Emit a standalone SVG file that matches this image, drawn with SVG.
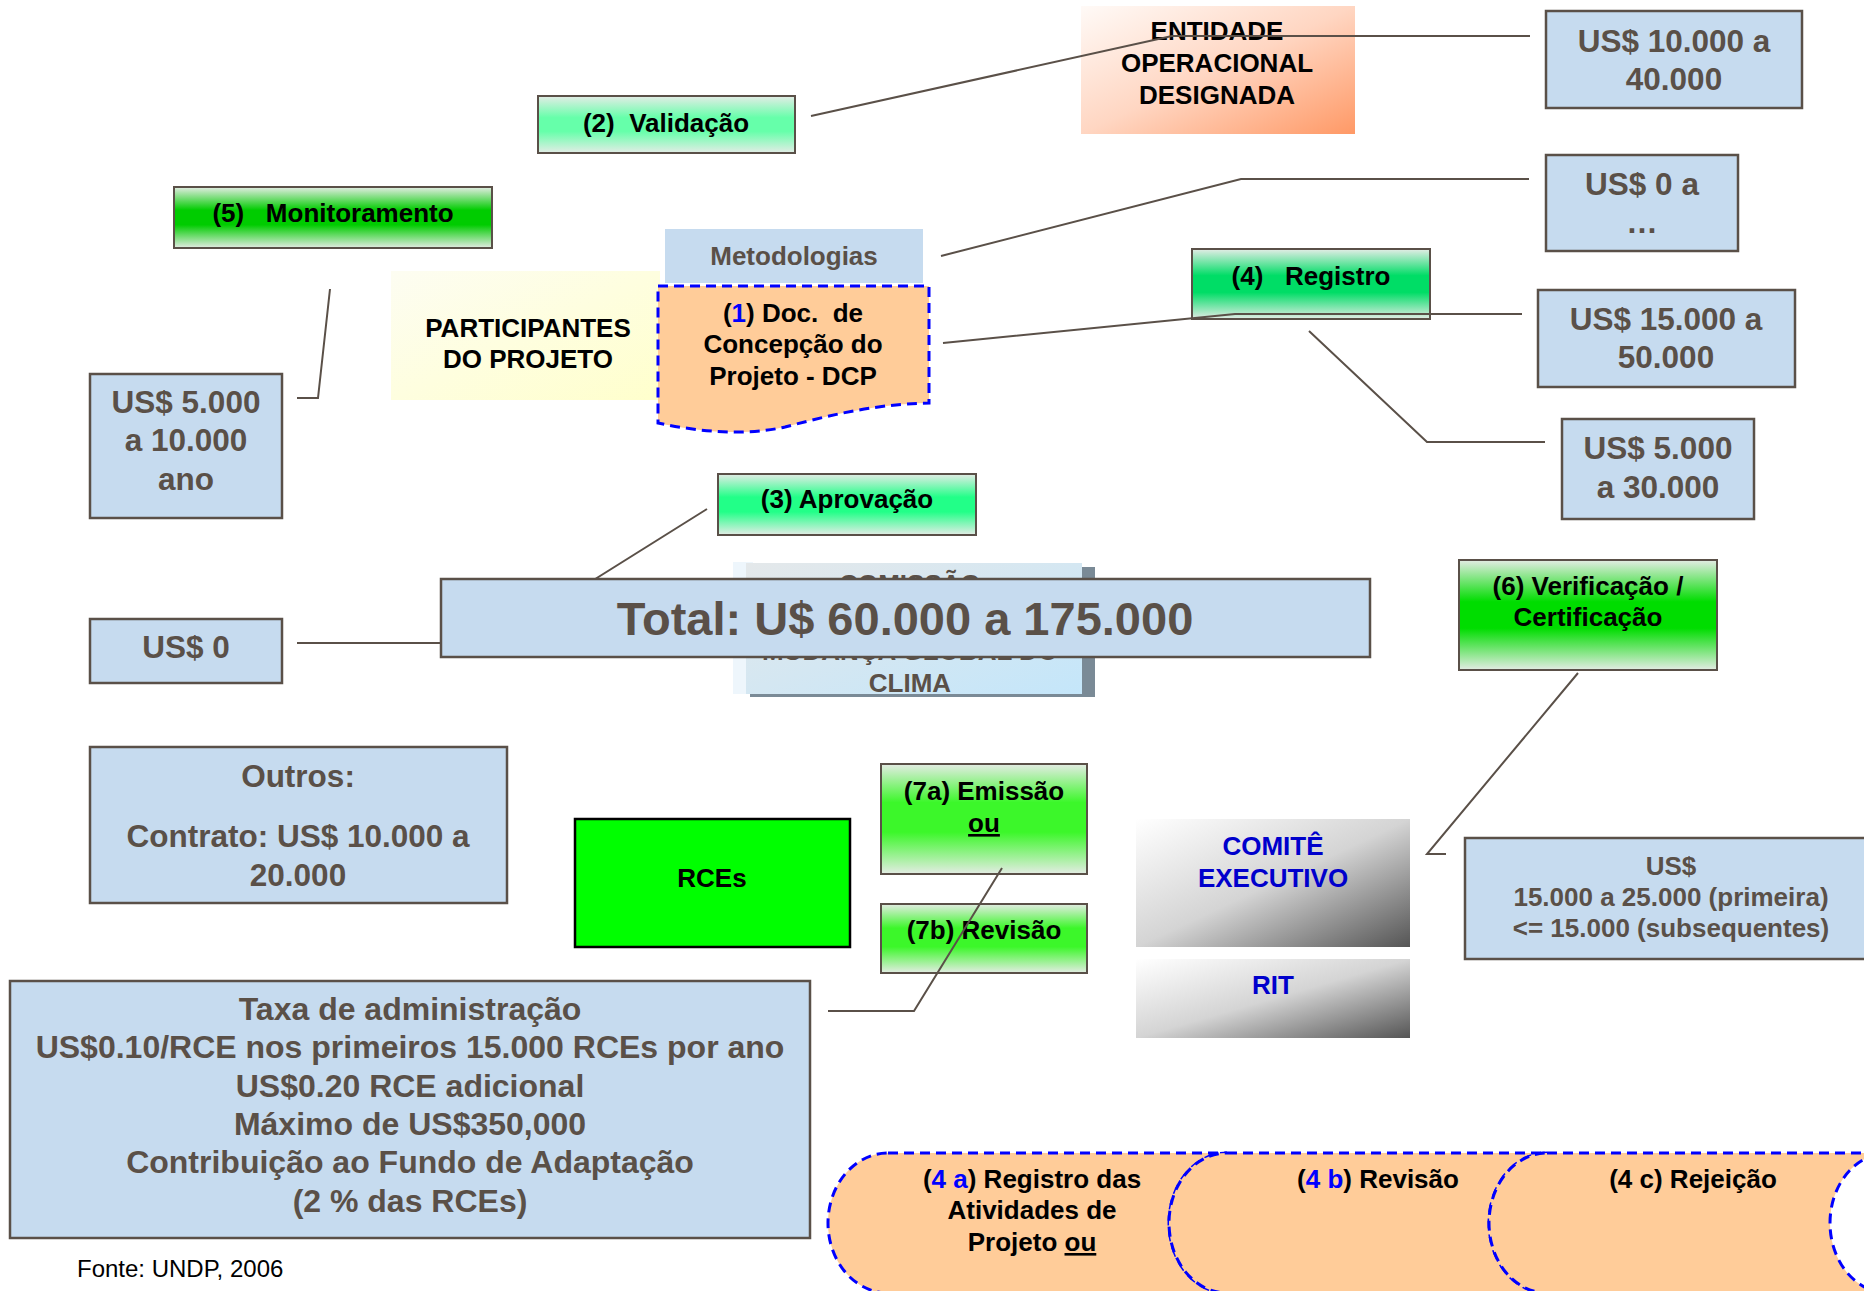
<svg xmlns="http://www.w3.org/2000/svg" width="1864" height="1291" viewBox="0 0 1864 1291">
<defs>
<style>
.val{fill:#c6dbef;stroke:#5a5048;stroke-width:2.5}
.vt{font-family:"Liberation Sans",Arial,sans-serif;font-weight:bold;font-size:31.5px;fill:#5a5048;text-anchor:middle}
.lbl{font-family:"Liberation Sans",Arial,sans-serif;font-weight:bold;font-size:26px;fill:#000;text-anchor:middle;white-space:pre}
.gt{font-family:"Liberation Sans",Arial,sans-serif;font-weight:bold;font-size:26px;fill:#5a5048;text-anchor:middle}
.bt{font-family:"Liberation Sans",Arial,sans-serif;font-weight:bold;font-size:26px;fill:#0000cc;text-anchor:middle}
.gb{stroke:#5a5048;stroke-width:2}
.conn{fill:none;stroke:#5a5048;stroke-width:2}
.dash{fill:#ffcc99;stroke:#0000ff;stroke-width:3;stroke-dasharray:10 6}
.blue{fill:#0000ff}
</style>
<linearGradient id="gValid" x1="0" y1="0" x2="0" y2="1"><stop offset="0" stop-color="#e4ece6"/><stop offset="0.38" stop-color="#66ffaa"/><stop offset="0.62" stop-color="#66ffaa"/><stop offset="1" stop-color="#e4ece6"/></linearGradient>
<linearGradient id="gMon" x1="0" y1="0" x2="0" y2="1"><stop offset="0" stop-color="#e4ece4"/><stop offset="0.38" stop-color="#00cc00"/><stop offset="0.62" stop-color="#00cc00"/><stop offset="1" stop-color="#e4ece4"/></linearGradient>
<linearGradient id="gReg" x1="0" y1="0" x2="0" y2="1"><stop offset="0" stop-color="#e4ece6"/><stop offset="0.38" stop-color="#00dd66"/><stop offset="0.62" stop-color="#00dd66"/><stop offset="1" stop-color="#e4ece6"/></linearGradient>
<linearGradient id="gApr" x1="0" y1="0" x2="0" y2="1"><stop offset="0" stop-color="#e4ece6"/><stop offset="0.38" stop-color="#22ff88"/><stop offset="0.62" stop-color="#22ff88"/><stop offset="1" stop-color="#e4ece6"/></linearGradient>
<linearGradient id="gVer" x1="0" y1="0" x2="0" y2="1"><stop offset="0" stop-color="#e4ece4"/><stop offset="0.38" stop-color="#00dd00"/><stop offset="0.62" stop-color="#00dd00"/><stop offset="1" stop-color="#e4ece4"/></linearGradient>
<linearGradient id="gEmi" x1="0" y1="0" x2="0" y2="1"><stop offset="0" stop-color="#e4ece4"/><stop offset="0.35" stop-color="#3cf72a"/><stop offset="0.62" stop-color="#3cf72a"/><stop offset="1" stop-color="#e4ece4"/></linearGradient>
<linearGradient id="gGray" x1="0" y1="0" x2="1" y2="1"><stop offset="0" stop-color="#ffffff"/><stop offset="0.5" stop-color="#d4d4d4"/><stop offset="1" stop-color="#555555"/></linearGradient>
<linearGradient id="gEnt" x1="0" y1="0" x2="1" y2="1"><stop offset="0" stop-color="#fffaf7"/><stop offset="0.5" stop-color="#ffd6c2"/><stop offset="1" stop-color="#ff9966"/></linearGradient>
<linearGradient id="gPart" x1="0" y1="0" x2="1" y2="1"><stop offset="0" stop-color="#fdfdf2"/><stop offset="1" stop-color="#ffffcc"/></linearGradient>
<linearGradient id="gCom" x1="0" y1="0" x2="1" y2="1"><stop offset="0" stop-color="#e4e8ea"/><stop offset="1" stop-color="#c4e6fa"/></linearGradient>
</defs>
<rect width="1864" height="1291" fill="#ffffff"/>

<g id="comissao">
<rect x="733" y="562" width="20" height="132" fill="#eef6fc"/>
<rect x="750" y="567" width="345" height="130" fill="#7a8a96"/>
<rect x="746" y="563" width="336" height="131" fill="url(#gCom)"/>
<text class="gt"><tspan x="910" y="593">COMISSÃO</tspan><tspan x="910" y="660">MUDANÇA GLOBAL DO</tspan><tspan x="910" y="692">CLIMA</tspan></text>
</g>

<g id="entidade">
<rect x="1081" y="6" width="274" height="128" fill="url(#gEnt)"/>
<text class="lbl"><tspan x="1217" y="40">ENTIDADE</tspan><tspan x="1217" y="72">OPERACIONAL</tspan><tspan x="1217" y="104">DESIGNADA</tspan></text>
</g>

<g id="validacao">
<rect class="gb" x="538" y="96" width="257" height="57" fill="url(#gValid)"/>
<text class="lbl" x="666" y="132">(2)  Validação</text>
</g>

<g id="monitoramento">
<rect class="gb" x="174" y="187" width="318" height="61" fill="url(#gMon)"/>
<text class="lbl" x="333" y="222">(5)   Monitoramento</text>
</g>

<g id="metodologias">
<rect x="665" y="229" width="258" height="54" fill="#c6dbef"/>
<text class="gt" x="794" y="265">Metodologias</text>
</g>

<g id="participantes">
<rect x="391" y="271" width="269" height="129" fill="url(#gPart)"/>
<text class="lbl"><tspan x="528" y="337">PARTICIPANTES</tspan><tspan x="528" y="368">DO PROJETO</tspan></text>
</g>

<g id="dcp">
<path class="dash" stroke-width="2.5" d="M658,286 L929,286 L929,403 C870,404 820,418 785,427 C745,436 700,432 658,423 Z"/>
<text class="lbl"><tspan x="793" y="322">(<tspan class="blue">1</tspan>) Doc.  de</tspan><tspan x="793" y="353">Concepção do</tspan><tspan x="793" y="385">Projeto - DCP</tspan></text>
</g>

<g id="registro">
<rect class="gb" x="1192" y="249" width="238" height="70" fill="url(#gReg)"/>
<text class="lbl" x="1311" y="285">(4)   Registro</text>
</g>

<g id="aprovacao">
<rect class="gb" x="718" y="474" width="258" height="61" fill="url(#gApr)"/>
<text class="lbl" x="847" y="508">(3) Aprovação</text>
</g>

<g id="verificacao">
<rect class="gb" x="1459" y="560" width="258" height="110" fill="url(#gVer)"/>
<text class="lbl"><tspan x="1588" y="595">(6) Verificação /</tspan><tspan x="1588" y="626">Certificação</tspan></text>
</g>

<g id="emissao">
<rect class="gb" x="881" y="764" width="206" height="110" fill="url(#gEmi)"/>
<text class="lbl"><tspan x="984" y="800">(7a) Emissão</tspan><tspan x="984" y="832" text-decoration="underline">ou</tspan></text>
</g>

<g id="revisao7b">
<rect class="gb" x="881" y="904" width="206" height="69" fill="url(#gEmi)"/>
<text class="lbl" x="984" y="939">(7b) Revisão</text>
</g>

<g id="rces">
<rect x="575" y="819" width="275" height="128" fill="#00ff00" stroke="#000" stroke-width="2.5"/>
<text class="lbl" x="712" y="887">RCEs</text>
</g>

<g id="comite">
<rect x="1136" y="819" width="274" height="128" fill="url(#gGray)"/>
<text class="bt"><tspan x="1273" y="855">COMITÊ</tspan><tspan x="1273" y="887">EXECUTIVO</tspan></text>
</g>

<g id="rit">
<rect x="1136" y="959" width="274" height="79" fill="url(#gGray)"/>
<text class="bt" x="1273" y="994">RIT</text>
</g>

<g id="custo-eod">
<rect class="val" x="1546" y="11" width="256" height="97"/>
<text class="vt"><tspan x="1674" y="52">US$ 10.000 a</tspan><tspan x="1674" y="90">40.000</tspan></text>
</g>

<g id="custo-metod">
<rect class="val" x="1546" y="155" width="192" height="96"/>
<text class="vt"><tspan x="1642" y="195">US$ 0 a</tspan><tspan x="1642" y="233">…</tspan></text>
</g>

<g id="custo-dcp">
<rect class="val" x="1538" y="290" width="257" height="97"/>
<text class="vt"><tspan x="1666" y="330">US$ 15.000 a</tspan><tspan x="1666" y="368">50.000</tspan></text>
</g>

<g id="custo-registro">
<rect class="val" x="1562" y="419" width="192" height="100"/>
<text class="vt"><tspan x="1658" y="459">US$ 5.000</tspan><tspan x="1658" y="498">a 30.000</tspan></text>
</g>

<g id="custo-monit">
<rect class="val" x="90" y="374" width="192" height="144"/>
<text class="vt"><tspan x="186" y="413">US$ 5.000</tspan><tspan x="186" y="451">a 10.000</tspan><tspan x="186" y="490">ano</tspan></text>
</g>

<g id="custo-aprov">
<rect class="val" x="90" y="619" width="192" height="64"/>
<text class="vt" x="186" y="658">US$ 0</text>
</g>

<g id="outros">
<rect class="val" x="90" y="747" width="417" height="156"/>
<text class="vt"><tspan x="298" y="787">Outros:</tspan><tspan x="298" y="847">Contrato: US$ 10.000 a</tspan><tspan x="298" y="886">20.000</tspan></text>
</g>

<g id="custo-verif">
<rect class="val" x="1465" y="838" width="412" height="121"/>
<text class="vt" style="font-size:26px"><tspan x="1671" y="875">US$</tspan><tspan x="1671" y="906">15.000 a 25.000 (primeira)</tspan><tspan x="1671" y="937">&lt;= 15.000 (subsequentes)</tspan></text>
</g>

<g id="taxa">
<rect class="val" x="10" y="981" width="800" height="257"/>
<text class="vt" style="font-size:32px"><tspan x="410" y="1020">Taxa de administração</tspan><tspan x="410" y="1058">US$0.10/RCE nos primeiros 15.000 RCEs por ano</tspan><tspan x="410" y="1097">US$0.20 RCE adicional</tspan><tspan x="410" y="1135">Máximo de US$350,000</tspan><tspan x="410" y="1173">Contribuição ao Fundo de Adaptação</tspan><tspan x="410" y="1212">(2 % das RCEs)</tspan></text>
</g>

<g id="registro-4a">
<path class="dash" d="M888,1153 H1227 A58 70 0 0 0 1227,1293 H888 A60 70 0 0 1 888,1153 Z"/>
<text class="lbl"><tspan x="1032" y="1188">(<tspan class="blue">4 a</tspan>) Registro das</tspan><tspan x="1032" y="1219">Atividades de</tspan><tspan x="1032" y="1251">Projeto <tspan text-decoration="underline">ou</tspan></tspan></text>
</g>

<g id="revisao-4b">
<path class="dash" d="M1227,1153 H1547 A58 70 0 0 0 1547,1293 H1227 A58 70 0 0 1 1227,1153 Z"/>
<text class="lbl" x="1378" y="1188">(<tspan class="blue">4 b</tspan>) Revisão</text>
</g>

<g id="rejeicao-4c">
<path class="dash" d="M1547,1153 H1888 A58 70 0 0 0 1888,1293 H1547 A58 70 0 0 1 1547,1153 Z"/>
<text class="lbl" x="1693" y="1188">(4 c) Rejeição</text>
</g>

<g id="fonte">
<text x="77" y="1277" font-family="Liberation Sans, Arial, sans-serif" font-size="24" fill="#000">Fonte: UNDP, 2006</text>
</g>

<g id="connectors">
<polyline class="conn" points="811,116 1172,36 1530,36"/>
<polyline class="conn" points="941,256 1241,179 1529,179"/>
<polyline class="conn" points="943,343 1235,314 1522,314"/>
<polyline class="conn" points="1309,331 1427,442 1545,442"/>
<polyline class="conn" points="330,289 318,398 297,398"/>
<polyline class="conn" points="707,509 493,643 297,643"/>
<polyline class="conn" points="1578,673 1427,854 1446,854"/>
<polyline class="conn" points="1002,868 914,1011 828,1011"/>
</g>

<g id="total">
<rect class="val" x="441" y="579" width="929" height="78"/>
<text class="vt" x="905" y="635" style="font-size:47px">Total: U$ 60.000 a 175.000</text>
</g>
</svg>
